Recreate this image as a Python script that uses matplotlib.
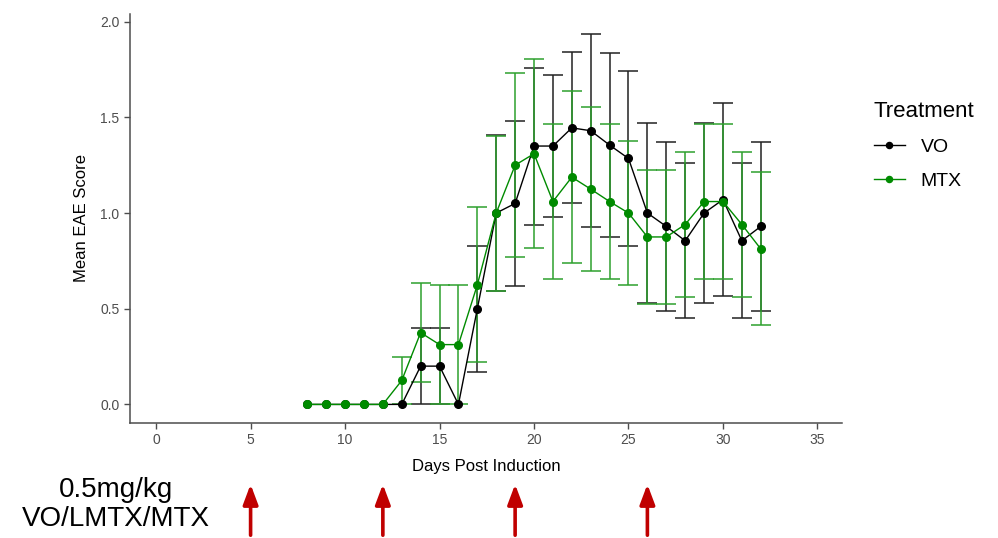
import numpy as np
import matplotlib
matplotlib.use("Agg")
import matplotlib.pyplot as plt

plt.rcParams['font.family'] = ['Liberation Sans', 'DejaVu Sans']

# data
days = list(range(8, 33))
vo_mean = [0, 0, 0, 0, 0, 0, 0.2, 0.2, 0, 0.5, 1.0, 1.05, 1.35, 1.35, 1.445, 1.43,
           1.355, 1.285, 1.0, 0.93, 0.855, 1.0, 1.07, 0.855, 0.93]
vo_err = [0, 0, 0, 0, 0, 0, 0.2, 0.2, 0, 0.33, 0.41, 0.43, 0.41, 0.37, 0.395, 0.505,
          0.48, 0.458, 0.47, 0.44, 0.405, 0.47, 0.505, 0.405, 0.44]
mtx_mean = [0, 0, 0, 0, 0, 0.125, 0.375, 0.3125, 0.3125, 0.625, 1.0, 1.25, 1.31, 1.06,
            1.1875, 1.125, 1.06, 1.0, 0.875, 0.875, 0.94, 1.06, 1.06, 0.94, 0.8125]
mtx_err = [0, 0, 0, 0, 0, 0.125, 0.26, 0.3125, 0.3125, 0.405, 0.405, 0.48, 0.495, 0.405,
           0.45, 0.43, 0.405, 0.375, 0.35, 0.35, 0.38, 0.405, 0.405, 0.38, 0.40]
dose_days = [5, 12, 19, 26]
dose_lines = ["0.5mg/kg", "VO/LMTX/MTX"]

GREEN = "#008B00"
GRAY = "#4D4D4D"

fig = plt.figure(figsize=(9.98, 5.38), dpi=100)
ax = fig.add_axes([0.1303, 0.2138, 0.7134, 0.7602])


def draw_series(x, m, e, color, ecolor, label):
    x = np.array(x)
    m = np.array(m)
    e = np.array(e)
    has = e > 0
    ax.errorbar(x[has], m[has], yerr=e[has], fmt="none", ecolor=ecolor,
                elinewidth=1.1, capsize=7.5, capthick=1.1, zorder=2)
    ax.plot(x, m, "-o", color=color, lw=1.0, ms=5.5, label=label, zorder=3)


draw_series(days, vo_mean, vo_err, "black", "#222222", "VO")
draw_series(days, mtx_mean, mtx_err, GREEN, "#2DA02D", "MTX")

ax.set_xlim(-1.38, 36.3)
ax.set_ylim(-0.097, 2.04)
ax.set_xticks(range(0, 36, 5))
ax.set_yticks([0, 0.5, 1.0, 1.5, 2.0])
ax.set_yticklabels(["0.0", "0.5", "1.0", "1.5", "2.0"])
ax.tick_params(colors=GRAY, labelsize=10, length=4, width=1)
for s in ["top", "right"]:
    ax.spines[s].set_visible(False)
for s in ["left", "bottom"]:
    ax.spines[s].set_color(GRAY)
    ax.spines[s].set_linewidth(1.1)
ax.set_xlabel("Days Post Induction", fontsize=12, labelpad=8)
ax.set_ylabel("Mean EAE Score", fontsize=12, labelpad=8)

leg = ax.legend(title="Treatment", loc="upper left", bbox_to_anchor=(1.02, 0.83),
                frameon=False, fontsize=14, title_fontsize=16, handlelength=1.6,
                labelspacing=0.85, markerscale=0.8)
leg._legend_box.align = "left"

# dosing arrows below the axis
for d in dose_days:
    ax.annotate("", xy=(d, 0.105), xytext=(d, 0.0),
                xycoords=("data", "figure fraction"), textcoords=("data", "figure fraction"),
                arrowprops=dict(arrowstyle="-|>,head_width=0.45,head_length=1.2",
                                color="#C00000", lw=2.6), annotation_clip=False)

fig.text(0.116, 0.089, dose_lines[0], ha="center", va="center", fontsize=20)
fig.text(0.116, 0.036, dose_lines[1], ha="center", va="center", fontsize=20)

fig.savefig("out.png", dpi=100)
